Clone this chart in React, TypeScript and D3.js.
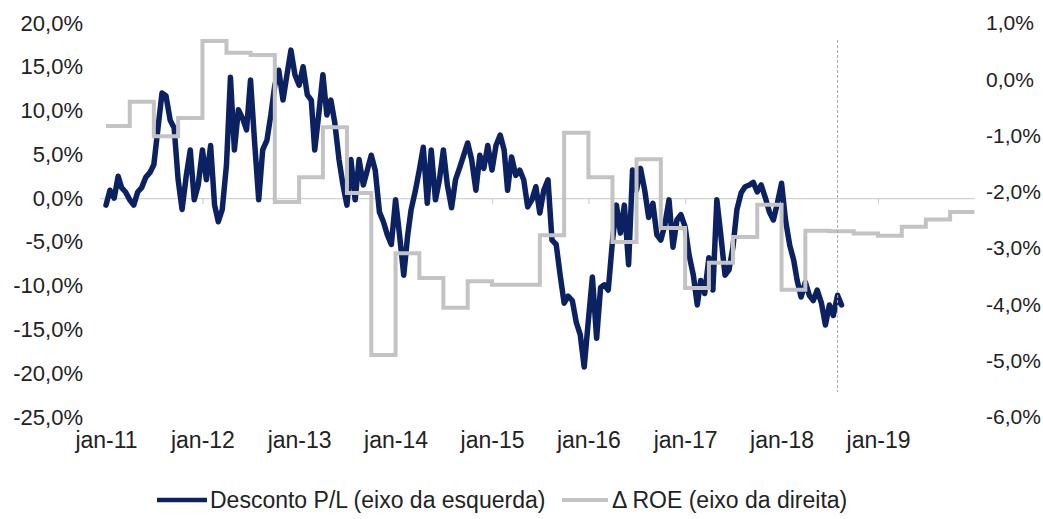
import { useRef, useEffect } from 'react';
import * as d3 from 'd3';

// Desconto P/L, semi-monthly readings (1st and 16th of each month), in %
const pl2011 = [-0.8, 0.9, 0.0, 2.5, 1.2, 0.7, -0.2, -0.8, 0.7, 1.2, 2.4, 2.9, 3.8, 7.8, 12.0, 11.7, 8.9, 8.0, 2.1, -1.3, 2.6, 5.5, -0.2, 1.5];
const pl2012 = [5.5, 2.1, 6.0, -0.8, -2.7, -1.3, 3.8, 13.8, 5.5, 10.1, 9.1, 7.8, 13.5, 6.6, -0.2, 5.5, 6.6, 9.5, 12.9, 14.6, 11.2, 14.1, 16.9, 14.1];
const pl2013 = [12.9, 15.0, 11.8, 11.2, 5.5, 9.5, 14.1, 9.5, 11.2, 8.6, 4.4, 1.5, -0.8, 4.4, -0.2, 4.4, 1.5, 3.2, 4.9, 3.2, -1.6, -2.7, -4.2, -5.3];
const pl2014 = [-0.2, -4.2, -8.8, -4.2, -1.3, 0.7, 3.2, 5.8, -0.6, 5.5, -0.2, 2.1, 5.5, 1.5, -1.1, 2.1, 3.5, 4.9, 6.3, 4.4, 0.9, 4.9, 3.4, 6.0];
const pl2015 = [3.2, 6.0, 7.2, 5.5, 0.9, 4.7, 2.6, 3.2, 2.1, -1.0, -0.2, 1.3, -1.7, 0.9, 2.1, -4.8, -5.3, -8.8, -12.0, -11.2, -11.7, -14.2, -15.6, -19.3];
const pl2016 = [-13.9, -9.0, -16.0, -10.2, -9.9, -10.5, -4.9, -0.8, -4.0, -0.8, -7.6, 3.2, 0.9, 3.4, 0.9, -2.2, -0.6, -4.2, -4.8, -3.1, -0.2, -5.6, -2.5, -1.9];
const pl2017 = [-3.3, -6.5, -8.8, -12.2, -9.4, -10.9, -6.8, -10.5, -0.2, -4.2, -8.8, -8.2, -5.6, -1.3, 0.6, 1.3, 1.5, 1.8, 0.7, 1.5, 0.0, -1.6, -2.5, -0.6];
const pl2018 = [1.7, -2.5, -5.4, -7.1, -9.4, -11.3, -9.6, -11.1, -11.7, -10.5, -12.0, -14.5, -12.2, -13.4, -11.1, -12.2];
const plYears = [2011, 2012, 2013, 2014, 2015, 2016, 2017, 2018];
const plByYear = [pl2011, pl2012, pl2013, pl2014, pl2015, pl2016, pl2017, pl2018];

// Δ ROE, quarterly from Q1 2011 to Q4 2019, in p.p.
const roeQuarterly = [
  -0.83, -0.40, -1.01, -0.69,
  0.68, 0.47, 0.43, -2.18,
  -1.74, -0.85, -2.02, -4.90,
  -3.09, -3.53, -4.06, -3.59,
  -3.65, -3.65, -2.77, -0.95,
  -1.74, -2.89, -1.42, -2.64,
  -3.71, -3.26, -2.80, -2.23,
  -3.74, -2.69, -2.70, -2.74,
  -2.78, -2.62, -2.49, -2.36,
];

const xTickLabels = ['jan-11', 'jan-12', 'jan-13', 'jan-14', 'jan-15', 'jan-16', 'jan-17', 'jan-18', 'jan-19'];
const leftTicks = [20, 15, 10, 5, 0, -5, -10, -15, -20, -25];
const rightTicks = [1, 0, -1, -2, -3, -4, -5, -6];
const seriesNames = ['Desconto P/L (eixo da esquerda)', 'Δ ROE (eixo da direita)'];

const NAVY = '#0b2161';
const GRAY = '#c3c3c3';
const FONT = '"Liberation Sans", Arial, sans-serif';

const fmt = (d: number) => d.toFixed(1).replace('.', ',') + '%';

const Chart = () => {
  const ref = useRef<SVGSVGElement>(null);

  useEffect(() => {
    const svg = d3.select(ref.current);
    svg.selectAll('*').remove();

    const x = d3.scaleTime()
      .domain([new Date(2011, 0, 1), new Date(2019, 0, 1)])
      .range([106, 878]);
    const yL = d3.scaleLinear().domain([-25, 20]).range([417, 23]);
    const yR = d3.scaleLinear().domain([-6, 1]).range([417, 23]);

    const plData: { date: Date; value: number }[] = [];
    plByYear.forEach((arr, yi) => {
      arr.forEach((v, k) => {
        plData.push({ date: new Date(plYears[yi], Math.floor(k / 2), k % 2 ? 16 : 1), value: v });
      });
    });

    const roeData = roeQuarterly.map((v, q) => ({
      date: new Date(2011 + Math.floor(q / 4), (q % 4) * 3, 1),
      value: v,
    }));
    roeData.push({ date: new Date(2020, 0, 1), value: roeQuarterly[roeQuarterly.length - 1] });

    // category axis on zero line
    const xAxis = svg.append('g')
      .attr('transform', `translate(0,${yL(0)})`)
      .call(d3.axisBottom(x)
        .tickValues(xTickLabels.map((_, i) => new Date(2011 + i, 0, 1)))
        .tickFormat((_, i) => xTickLabels[i])
        .tickSizeInner(6)
        .tickSizeOuter(0));
    xAxis.select('.domain')
      .attr('d', `M${x(new Date(2010, 11, 10))},0.5H${x(new Date(2020, 0, 1))}`)
      .attr('stroke', '#cdd3cd')
      .attr('stroke-width', 1.4);
    xAxis.selectAll('.tick line').attr('stroke', '#cdd3cd').attr('stroke-width', 1.2);
    xAxis.selectAll('.tick text')
      .attr('y', 440 - yL(0))
      .attr('dy', '0.35em')
      .attr('fill', '#222')
      .style('font-family', FONT)
      .style('font-size', '23px');

    const leftAxis = svg.append('g')
      .attr('transform', 'translate(90,0)')
      .call(d3.axisLeft(yL).tickValues(leftTicks).tickFormat(fmt).tickSize(0).tickPadding(7));
    leftAxis.select('.domain').remove();
    leftAxis.selectAll('text').attr('fill', '#222').style('font-family', FONT).style('font-size', '22px');

    const rightAxis = svg.append('g')
      .attr('transform', 'translate(979,0)')
      .call(d3.axisRight(yR).tickValues(rightTicks).tickFormat(fmt).tickSize(0).tickPadding(7));
    rightAxis.select('.domain').remove();
    rightAxis.selectAll('text').attr('fill', '#222').style('font-family', FONT).style('font-size', '21px');

    // navy series
    const plLine = d3.line<{ date: Date; value: number }>()
      .x(d => x(d.date))
      .y(d => yL(d.value));
    svg.append('path')
      .datum(plData)
      .attr('d', plLine)
      .attr('fill', 'none')
      .attr('stroke', NAVY)
      .attr('stroke-width', 5.5)
      .attr('stroke-linejoin', 'round')
      .attr('stroke-linecap', 'round');

    // gray step series
    const roeLine = d3.line<{ date: Date; value: number }>()
      .x(d => x(d.date))
      .y(d => yR(d.value))
      .curve(d3.curveStepAfter);
    svg.append('path')
      .datum(roeData)
      .attr('d', roeLine)
      .attr('fill', 'none')
      .attr('stroke', GRAY)
      .attr('stroke-width', 4);

    // vertical dashed marker
    const xm = x(new Date(2018, 7, 1));
    svg.append('line')
      .attr('x1', xm).attr('x2', xm)
      .attr('y1', 40).attr('y2', 392)
      .attr('stroke', '#a8a8a8')
      .attr('stroke-width', 1)
      .attr('stroke-dasharray', '3,2');

    // legend
    const legend = svg.append('g').style('font-family', FONT).style('font-size', '23px');
    const items = [
      { x1: 157, x2: 207, tx: 210, color: NAVY, w: 4.5, name: seriesNames[0] },
      { x1: 562, x2: 608, tx: 612, color: GRAY, w: 4, name: seriesNames[1] },
    ];
    items.forEach(it => {
      legend.append('line')
        .attr('x1', it.x1).attr('x2', it.x2)
        .attr('y1', 500).attr('y2', 500)
        .attr('stroke', it.color)
        .attr('stroke-width', it.w);
      legend.append('text')
        .attr('x', it.tx).attr('y', 500)
        .attr('dy', '0.35em')
        .attr('fill', '#222')
        .text(it.name);
    });
  }, []);

  return <svg ref={ref} width={1043} height={519} style={{ display: 'block' }}></svg>;
};

export default function App() {
  return (
    <div style={{ position: 'absolute', left: 0, top: 0, width: 1043, height: 519, background: '#fff' }}>
      <Chart />
    </div>
  );
}
